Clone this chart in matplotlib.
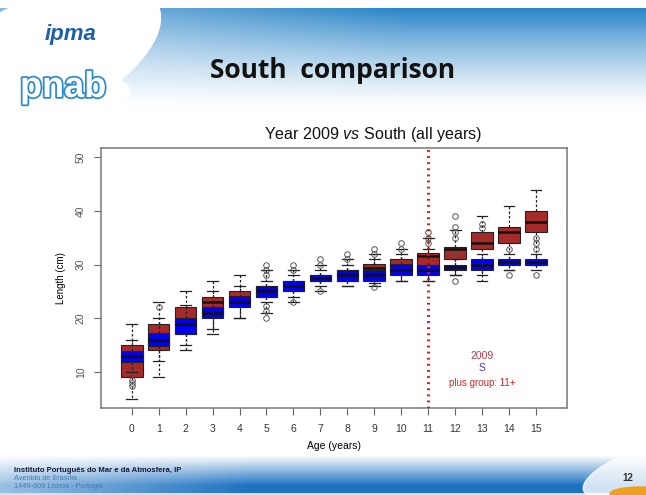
import numpy as np
import matplotlib
matplotlib.use('Agg')
from matplotlib import pyplot as plt
from matplotlib import patheffects
from matplotlib.patches import Ellipse

plt.rcParams['font.family'] = ['Liberation Sans', 'DejaVu Sans']
plt.rcParams['mathtext.fontset'] = 'custom'
plt.rcParams['mathtext.it'] = 'Liberation Sans:italic'
plt.rcParams['mathtext.rm'] = 'Liberation Sans'

# ages (years)
ages = list(range(16))

# South, all years  (low whisker, Q1, median, Q3, high whisker)
south_lo  = [5, 9, 14, 17, 20, 21, 23, 25, 26, 26, 27, 27, 28, 28, 29, 30]
south_q1  = [9, 14, 17, 20.5, 22.5, 24, 25, 27, 27, 27.5, 28.5, 28.5, 31, 33, 34, 36]
south_med = [12, 16.5, 19.5, 23, 24, 25, 26, 27.5, 28, 29.4, 30, 31.6, 33, 34.1, 36, 37.9]
south_q3  = [15, 19, 22, 24, 25, 26, 27, 28, 29, 30.1, 31.1, 32.1, 33.2, 36, 37, 40]
south_hi  = [19, 23, 25, 27, 28, 29, 29, 30, 31, 32, 33, 35, 36.5, 39, 41, 44]

# year 2009
y09_lo  = [10, 12, 15, 18, 20, 23, 24, 26, 26, 26.5, 27, 27, 28, 27, 29, 29]
y09_q1  = [11.9, 14.9, 17, 20, 22, 24, 25, 27, 27, 27, 28, 28, 29, 29, 29.9, 30]
y09_med = [12.9, 16, 19, 21, 23, 25, 26, 27.5, 28, 28, 29, 29, 29.5, 30, 30.4, 30.5]
y09_q3  = [13.9, 17.2, 20.1, 22, 24, 26, 27, 28.1, 29, 29, 30.1, 30, 30, 31, 31, 31]
y09_hi  = [16, 20, 22.5, 25, 26, 27, 28, 29, 30, 31, 32, 33, 31, 32, 32, 32]
y09_out = [[8.5, 8, 7.3], [22], [], [], [], [28, 29, 30, 22.3, 21.4, 20],
           [29, 30, 23], [30, 31, 25], [31, 32], [32, 33, 25.8], [33, 34],
           [34, 35, 36], [32, 35, 36, 37, 39, 27], [36.8, 37.5], [33, 28],
           [33, 34, 35, 28]]

W, H = 646, 495
fig = plt.figure(figsize=(W / 100, H / 100), dpi=100)

# slide background: header and footer bands
bg = fig.add_axes([0, 0, 1, 1], zorder=0)
bg.set_xlim(0, W)
bg.set_ylim(H, 0)
bg.axis('off')
img = np.ones((H, W, 3))
blue = np.array([0.16, 0.52, 0.78])
yy, xx = np.mgrid[0:H, 0:W]
t = np.clip((yy - 8) / 100.0, 0, 1)
hx = np.clip(0.55 + xx / 900.0, 0, 1)
a = np.where(yy >= 8, (1 - t) ** 1.3 * hx, 0)[..., None]
img = img * (1 - a) + blue * a
tf = np.clip((yy - 455) / 30.0, 0, 1) * np.clip(0.45 + xx / 450.0, 0, 1)
tf = np.where(yy > 492, 0.2, tf)[..., None]
dblue = np.array([0.12, 0.45, 0.76])
img = img * (1 - tf) + dblue * tf
bg.imshow(img, extent=[0, W, H, 0], aspect='auto')
bg.add_patch(Ellipse((40, 60), 260, 120, angle=-25, color='white', zorder=2))
bg.add_patch(Ellipse((50, 92), 160, 50, color='white', zorder=2))
bg.add_patch(Ellipse((640, 470), 120, 40, angle=-20, color='white', alpha=0.8, zorder=2))
bg.add_patch(Ellipse((640, 494), 60, 14, color='#f0a020', zorder=3))
bg.text(45, 40, 'ipma', fontsize=16, color='#1f5fa8', fontweight='bold', style='italic', zorder=3)
bg.text(20, 97, 'pnab', fontsize=26, color='white', fontweight='bold', zorder=3,
        path_effects=[patheffects.withStroke(linewidth=2.5, foreground='#2a8ad0')])
bg.text(333, 70, 'South  comparison', fontsize=19, fontweight='bold', color='#111111',
        ha='center', va='center', family=['Open Sans', 'DejaVu Sans'], zorder=3)
bg.text(14, 472, 'Instituto Português do Mar e da Atmosfera, IP', fontsize=5.6,
        fontweight='bold', color='#1a1a3a', zorder=3)
bg.text(14, 480, 'Avenida de Brasília', fontsize=5.3, color='#4a7fb0', zorder=3)
bg.text(14, 488, '1449-006 Lisboa - Portugal', fontsize=5.3, color='#4a7fb0', zorder=3)
bg.text(628, 481, '12', fontsize=7, fontweight='bold', color='#333333', ha='center', zorder=4)

# chart
ax = fig.add_axes([101 / W, 1 - 408.3 / H, 465.7 / W, 260.6 / H], zorder=5)
ax.set_facecolor('white')


def make_stats(lo, q1, med, q3, hi, out):
    return [dict(whislo=lo[i], q1=q1[i], med=med[i], q3=q3[i], whishi=hi[i],
                 fliers=out[i]) for i in range(len(lo))]


common = dict(positions=ages, widths=0.8, capwidths=0.4, patch_artist=True,
              showfliers=True, manage_ticks=False)
south = make_stats(south_lo, south_q1, south_med, south_q3, south_hi, [[] for _ in ages])
y09 = make_stats(y09_lo, y09_q1, y09_med, y09_q3, y09_hi, y09_out)

ax.bxp(south, boxprops=dict(facecolor='#A52A2A', edgecolor='#222222', lw=0.8),
       medianprops=dict(color='#111111', lw=1.8),
       whiskerprops=dict(color='#222222', lw=0.9, ls=(0, (2, 1.6))),
       capprops=dict(color='#222222', lw=0.9), zorder=2, **common)
ax.bxp(y09, boxprops=dict(facecolor='#0000F0', edgecolor='#222222', lw=0.8),
       medianprops=dict(color='#111111', lw=1.8),
       whiskerprops=dict(color='#222222', lw=0.9, ls=(0, (2, 1.6))),
       capprops=dict(color='#222222', lw=0.9),
       flierprops=dict(marker='o', mfc='none', mec='#555555', ms=4, mew=0.7),
       zorder=3, **common)

ax.axvline(11, color='#e8141c', lw=2.2, ls=(0, (0.6, 1.4)), zorder=4)
ax.text(13, 12.9, '2009', color='#b03a4a', fontsize=7.5, ha='center', va='center')
ax.text(13, 10.8, 'S', color='#3a3ad0', fontsize=7.5, ha='center', va='center')
ax.text(13, 8.0, 'plus group: 11+', color='#d02a2a', fontsize=7, ha='center', va='center')

ax.set_xlim(-1.14, 16.14)
ax.set_ylim(3.2, 51.8)
ax.set_xticks(ages)
ax.set_xticklabels([str(a) for a in ages], fontsize=7.5, color='#333333')
ax.set_yticks([10, 20, 30, 40, 50])
ax.set_yticklabels(['10', '20', '30', '40', '50'], rotation=90, va='center',
                   fontsize=7.5, color='#555555')
ax.tick_params(length=5, width=0.8, color='#666666', pad=6)
for s in ax.spines.values():
    s.set_color('#777777')
    s.set_linewidth(1.1)
ax.set_xlabel('Age (years)', fontsize=7.5, labelpad=5)
ax.set_ylabel('Length (cm)', fontsize=7, labelpad=7)

fig.text(373 / W, 1 - 134 / H, r'Year 2009 $\it{vs}$ South (all years)', fontsize=11.6,
         ha='center', va='center', color='#111111')

fig.savefig('out.png', dpi=100)
